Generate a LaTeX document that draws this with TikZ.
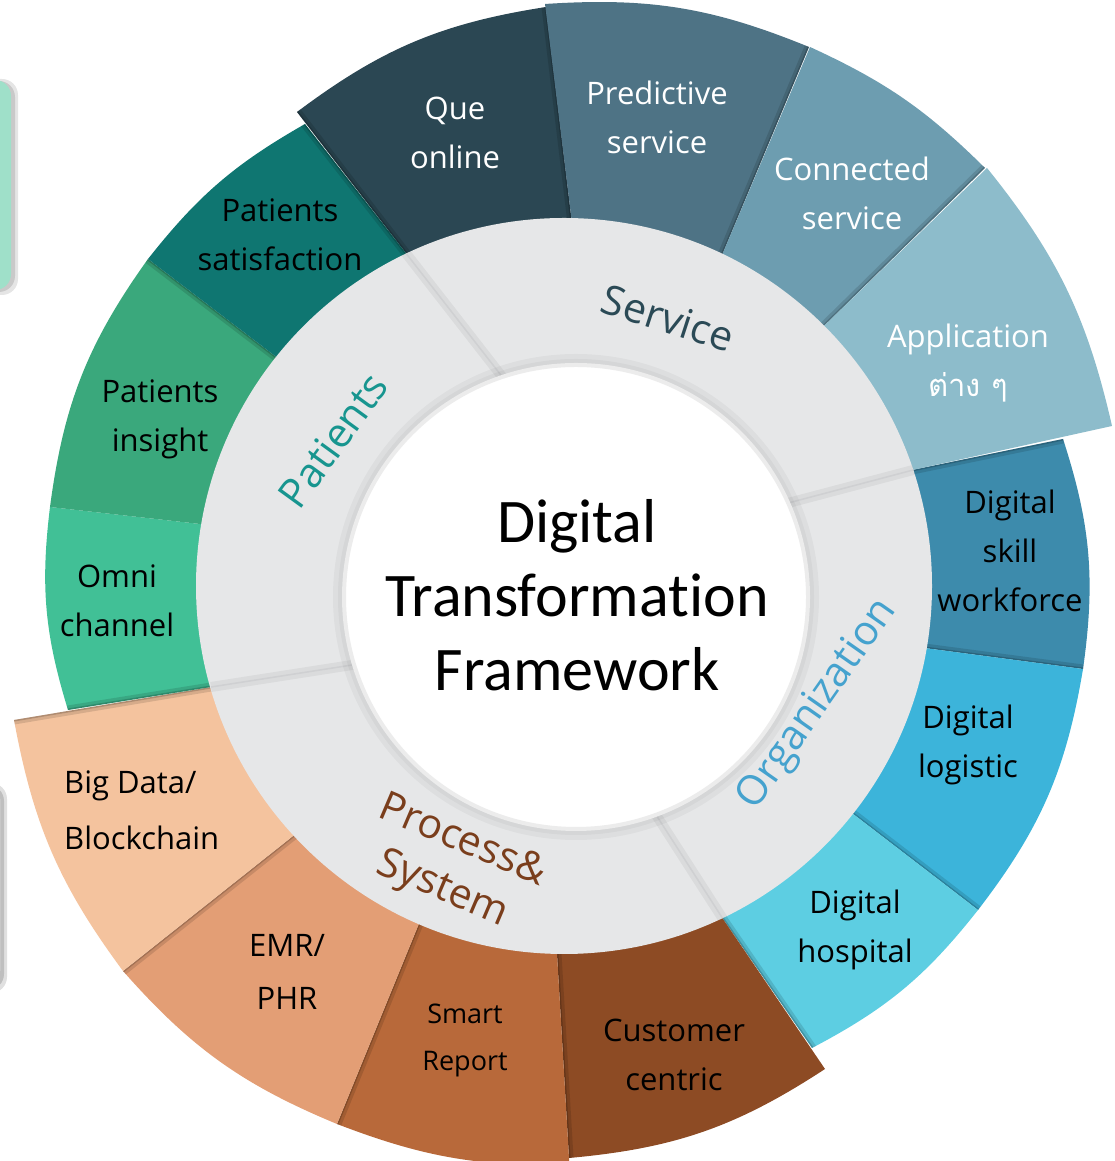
\documentclass[tikz,border=0pt]{standalone}
\usepackage{fontspec}
\setmainfont{Open Sans}
\newfontfamily\centrefont[Ligatures=NoCommon]{Carlito}
\newfontfamily\thaifont[Script=Thai]{Loma}
\usetikzlibrary{calc,positioning}

\definecolor{que}{HTML}{2B4753}
\definecolor{predictive}{HTML}{4E7385}
\definecolor{connected}{HTML}{6D9DB0}
\definecolor{application}{HTML}{8DBCCB}
\definecolor{skill}{HTML}{3D8BAC}
\definecolor{logistic}{HTML}{3CB4DA}
\definecolor{hospital}{HTML}{5DCEE2}
\definecolor{customer}{HTML}{8D4B24}
\definecolor{smart}{HTML}{B8693A}
\definecolor{emr}{HTML}{E39E75}
\definecolor{bigdata}{HTML}{F4C39E}
\definecolor{omni}{HTML}{41C096}
\definecolor{insight}{HTML}{3AA87C}
\definecolor{satisfaction}{HTML}{0F7671}
\definecolor{ring}{HTML}{E6E7E8}
\definecolor{ringline}{HTML}{CFD0D2}
\definecolor{rim}{HTML}{ECECEC}
\definecolor{mint}{HTML}{9FE0C9}
\definecolor{servicetxt}{HTML}{2B4A56}
\definecolor{patientstxt}{HTML}{17958F}
\definecolor{orgtxt}{HTML}{45A2CE}
\definecolor{processtxt}{HTML}{7A3E1C}

\tikzstyle{every node}+=[inner sep=0pt,align=center]
\tikzstyle{item}=[font=\fontsize{31}{49}\selectfont,text=black]
\tikzstyle{item white}=[item,text=white]
\tikzstyle{group}=[font=\fontsize{41}{52}\selectfont]
\tikzstyle{edge shade}=[line width=9pt,black,opacity=.12]
\tikzstyle{edge core}=[line width=3pt,black,opacity=.18]
\tikzstyle{ring edge}=[line width=1.5pt,ringline]
\tikzstyle{ring shade}=[line width=10pt,black,opacity=.05]

\newcommand{\edgeshade}[2]{
	\draw[edge shade] ($(#1)!-.2!(#2)$) -- ($(#1)!1.3!(#2)$);
	\draw[edge core] ($(#1)!-.2!(#2)$) -- ($(#1)!1.3!(#2)$);
}
\newcommand{\drawsector}[7][]{
	\fill[#2,path picture={#1}] ($(#3)!1.35!(#4)$) -- (#3) to[bend left=#7] (#5) -- ($(#5)!1.35!(#6)$) -- (g) -- cycle;
}

\begin{document}
\begin{tikzpicture}[x=1pt,y=1pt]
	\useasboundingbox (0,0) rectangle (1115,1161);
	\clip (0,0) rectangle (1115,1161);

	% side panels
	\fill[black,opacity=.1,rounded corners=16] (-40,866) rectangle (18,1082);
	\fill[black,opacity=.12,rounded corners=16] (-40,869) rectangle (15,1080);
	\fill[mint,rounded corners=16] (-40,871) rectangle (11,1081);
	\fill[black,opacity=.12,rounded corners=16] (-40,168) rectangle (7,378);
	\fill[black,opacity=.15,rounded corners=16] (-40,171) rectangle (4,376);
	\fill[white,rounded corners=16] (-40,174) rectangle (0,378);

	\coordinate (g) at (564,575);
	\coordinate (w) at (576,564);
	% ring points between neighbouring segments
	\foreach \n/\x/\y in {1/405/909,2/571/946,3/725/913,4/828/839,5/917/692,6/932/512,7/857/344,
		8/723/242,9/557/207,10/418/235,11/293/325,12/211/474,13/200/637,14/275/805}{
		\coordinate (r\n) at (\x,\y);
	}
	% outer corners
	\coordinate (que1) at (297,1049);  \coordinate (que2) at (546,1154);
	\coordinate (pre1) at (545,1157);  \coordinate (pre2) at (809,1114);
	\coordinate (con1) at (810,1114);  \coordinate (con2) at (985,993);
	\coordinate (app1) at (987,993);   \coordinate (app2) at (1112,735);
	\coordinate (ski1) at (1063,722);  \coordinate (ski2) at (1083,492);
	\coordinate (log1) at (1083,492);  \coordinate (log2) at (978,251);
	\coordinate (hos1) at (978,251);   \coordinate (hos2) at (812,113);
	\coordinate (cus1) at (825,92);    \coordinate (cus2) at (569,3);
	\coordinate (sma1) at (569.4,-4);  \coordinate (sma2) at (337,37);
	\coordinate (emr1) at (337,37);    \coordinate (emr2) at (123,190);
	\coordinate (big1) at (123,190);   \coordinate (big2) at (14,441);
	\coordinate (omn1) at (68,451);    \coordinate (omn2) at (50,654);
	\coordinate (ins1) at (50,654);    \coordinate (ins2) at (148,902);
	\coordinate (sat1) at (148,902);   \coordinate (sat2) at (305,1037);

	% outer segments
	\drawsector[\edgeshade{que1}{r1}\edgeshade{que2}{r2}]{que}{que1}{r1}{que2}{r2}{14}
	\drawsector[\edgeshade{pre2}{r3}]{predictive}{pre1}{r2}{pre2}{r3}{13}
	\drawsector[\edgeshade{con2}{r4}]{connected}{con1}{r3}{con2}{r4}{10}
	\drawsector[\edgeshade{ski1}{r5}\edgeshade{ski2}{r6}]{skill}{ski1}{r5}{ski2}{r6}{13}
	\drawsector{application}{app1}{r4}{app2}{r5}{13}
	\drawsector[\edgeshade{log2}{r7}]{logistic}{log1}{r6}{log2}{r7}{14}
	\drawsector[\edgeshade{hos2}{r8}]{hospital}{hos1}{r7}{hos2}{r8}{12}
	\drawsector[\edgeshade{cus2}{r9}]{customer}{cus1}{r8}{cus2}{r9}{14}
	\drawsector[\edgeshade{sma2}{r10}]{smart}{sma1}{r9}{sma2}{r10}{11}
	\drawsector[\edgeshade{emr2}{r11}]{emr}{emr1}{r10}{emr2}{r11}{13}
	\drawsector[\edgeshade{big2}{r12}]{bigdata}{big1}{r11}{big2}{r12}{13}
	\drawsector[\edgeshade{omn1}{r12}]{omni}{omn1}{r12}{omn2}{r13}{12}
	\drawsector[\edgeshade{ins2}{r14}]{insight}{ins1}{r13}{ins2}{r14}{14}
	\drawsector[\edgeshade{sat2}{r1}]{satisfaction}{sat1}{r14}{sat2}{r1}{11}

	% grey ring and its four parts
	\fill[ring] (g) circle (368);
	\coordinate (d1) at (500,787);
	\coordinate (d2) at (792,659);
	\coordinate (d3) at (660,340);
	\coordinate (d4) at (352,496);
	\begin{scope}
		\clip (g) circle (368);
		\foreach \a/\b in {r1/d1,r5/d2,r8/d3,r12/d4}{
			\draw[ring shade] (\a) -- ($(\a)!1.3!(\b)$);
			\draw[ring edge] (\a) -- ($(\a)!1.3!(\b)$);
		}
	\end{scope}

	% centre disc
	\fill[black,opacity=.035] (w) circle (243);
	\fill[black,opacity=.035] (w) circle (238);
	\filldraw[fill=white,draw=rim,line width=4pt] (w) circle (232);
	\node[font={\centrefont\fontsize{62}{74}\selectfont}] (title) at (577,566) {Digital\\Transformation\\Framework};

	% group labels
	\node[group,text=servicetxt,rotate=-18] (service) at (668,843) {Service};
	\node[group,text=patientstxt,rotate=54] (patients) at (333,721) {Patients};
	\node[group,text=orgtxt,rotate=55] (organization) at (818,456) {Organization};
	\node[group,text=processtxt,rotate=-23] (process) at (452,295) {Process\&\\System};

	% segment labels
	\node[item white] (queT) at (455,1028) {Que\\online};
	\node[item white] (preT) at (657,1044) {Predictive\\service};
	\node[item white] (conT) at (852,968) {Connected\\service};
	\node[item white] (appT) at (968,798) {Application\\{\thaifont ต่าง ๆ}};
	\node[item] (skiT) at (1010,610) {Digital\\skill\\workforce};
	\node[item] (logT) at (968,416) {Digital\\logistic};
	\node[item] (hosT) at (855,231) {Digital\\hospital};
	\node[item] (cusT) at (674,106) {Customer\\centric};
	\node[item,font=\fontsize{27}{47}\selectfont] (smaT) at (465,121) {Smart\\Report};
	\node[item,font=\fontsize{31}{53}\selectfont] (emrT) at (287,189) {EMR/\\PHR};
	\node[item,font=\fontsize{31}{56}\selectfont,anchor=west,align=left] (bigT) at (64,351) {Big Data/\\Blockchain};
	\node[item] (omnT) at (117,560) {Omni\\channel};
	\node[item] (insT) at (160,742) {Patients\\insight};
	\node[item] (satT) at (280,926) {Patients\\satisfaction};
\end{tikzpicture}
\end{document}
